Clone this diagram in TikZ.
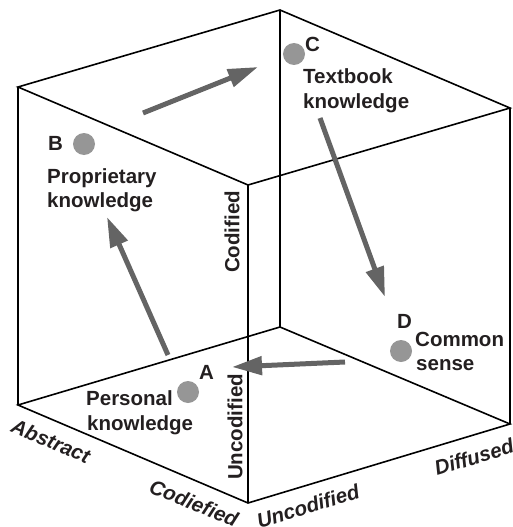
\documentclass[tikz,border=0pt]{standalone}
\usepackage{fontspec}
\setmainfont{Liberation Sans}
\usetikzlibrary{arrows.meta}
\definecolor{arrowgray}{RGB}{100,100,100}
\definecolor{dotgray}{RGB}{150,150,150}
\definecolor{inkblack}{RGB}{35,31,32}
\tikzset{
  edge/.style={draw=black, line width=1.6pt},
  flow/.style={draw=arrowgray, line width=5pt, -{Triangle[length=30pt,width=18pt]}},
  dot/.style={circle, fill=dotgray, draw=none, minimum size=22pt, inner sep=0pt},
  lbl/.style={font=\fontsize{20.5}{24}\selectfont\bfseries, text=inkblack, inner sep=0pt, anchor=base west},
  axis/.style={font=\fontsize{20.5}{24}\selectfont\bfseries, text=inkblack, inner sep=0pt, anchor=center},
  axisit/.style={font=\fontsize{20.5}{24}\selectfont\bfseries\itshape, text=inkblack, inner sep=0pt, anchor=center}
}
\begin{document}
\begin{tikzpicture}[x=1pt,y=-1pt]
\useasboundingbox (0,0) rectangle (512,527);
% cube vertices
\coordinate (TL) at (18,87);
\coordinate (TB) at (280,10);
\coordinate (TR) at (510,108);
\coordinate (TF) at (248,185);
\coordinate (BL) at (18,405);
\coordinate (BB) at (280,327);
\coordinate (BR) at (510,424);
\coordinate (BF) at (248,503);
% edges
\draw[edge] (TL) -- (TB) -- (TR) -- (TF) -- cycle;
\draw[edge] (BL) -- (BB) -- (BR) -- (BF) -- cycle;
\draw[edge] (TL) -- (BL);
\draw[edge] (TB) -- (BB);
\draw[edge] (TR) -- (BR);
\draw[edge] (TF) -- (BF);
% dots
\node[dot] (dotA) at (188,392) {};
\node[dot] (dotB) at (84,144) {};
\node[dot] (dotC) at (294,54) {};
\node[dot] (dotD) at (401,351) {};
% arrows
\coordinate (a1s) at (143,113); \coordinate (a1e) at (258,67);
\coordinate (a2s) at (168,355); \coordinate (a2e) at (107,217);
\coordinate (a3s) at (320,118); \coordinate (a3e) at (385,297);
\coordinate (a4s) at (345,362); \coordinate (a4e) at (232,367);
\draw[flow] (a1s) -- (a1e);
\draw[flow] (a2s) -- (a2e);
\draw[flow] (a3s) -- (a3e);
\draw[flow] (a4s) -- (a4e);
% labels
\node[lbl] (labB) at (48,150) {B};
\node[lbl] (labB1) at (47,183) {Proprietary};
\node[lbl] (labB2) at (47,207) {knowledge};
\node[lbl] (labC) at (305,52) {C};
\node[lbl] (labC1) at (303,83) {Textbook};
\node[lbl] (labC2) at (303,108) {knowledge};
\node[lbl] (labA) at (199,379) {A};
\node[lbl] (labA1) at (86,405) {Personal};
\node[lbl] (labA2) at (87,430) {knowledge};
\node[lbl] (labD) at (397,328) {D};
\node[lbl] (labD1) at (415,346) {Common};
\node[lbl] (labD2) at (416,370) {sense};
% axis labels
\node[axis, rotate=90] (axCod) at (232,232) {Codified};
\node[axis, rotate=90] (axUnc) at (235,427) {Uncodified};
\node[axisit, rotate=-23] (axAbs) at (51,441) {Abstract};
\node[axisit, rotate=-22] (axCodie) at (194,503) {Codiefied};
\node[axisit, rotate=17] (axUncB) at (308,506) {Uncodified};
\node[axisit, rotate=17] (axDif) at (474,457) {Diffused};
\end{tikzpicture}
\end{document}
